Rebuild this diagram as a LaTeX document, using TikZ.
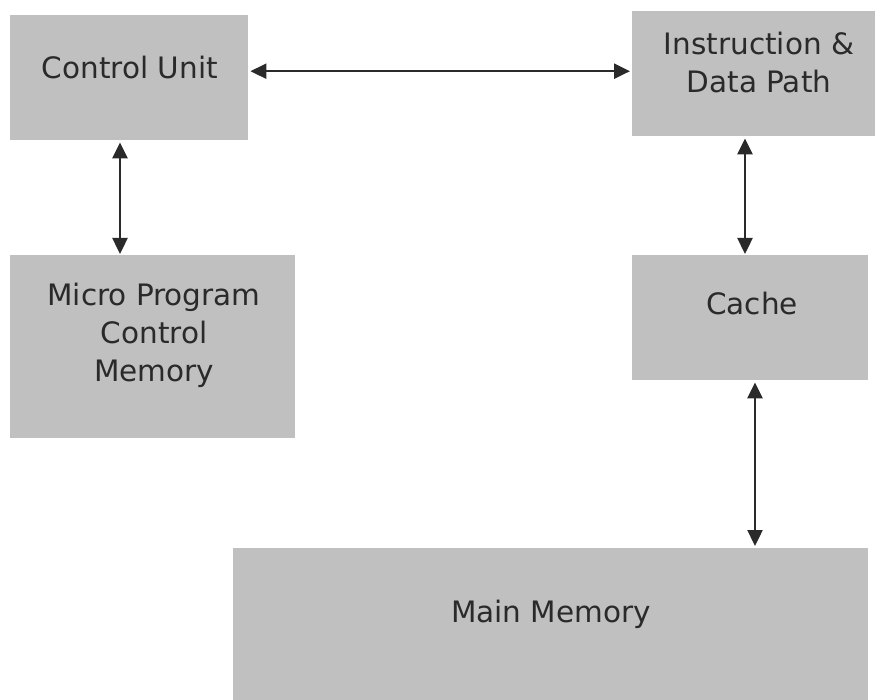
\documentclass[tikz,border=0pt]{standalone}
\usepackage{fontspec}
\setmainfont{DejaVu Sans}
\usetikzlibrary{arrows.meta}
\definecolor{boxgray}{HTML}{C0C0C0}
\definecolor{ink}{HTML}{2A2A2A}
\tikzset{
  box/.style={draw=none, fill=boxgray, anchor=north west, inner sep=0pt},
  txt/.style={text=ink, font=\fontsize{29.5}{38}\selectfont, align=center, inner sep=0pt},
  conn/.style={draw=ink, line width=2.4pt, {Triangle[length=16pt,width=15pt]}-{Triangle[length=16pt,width=15pt]}}
}
\begin{document}
\begin{tikzpicture}[x=1pt,y=-1pt]
\useasboundingbox (0,0) rectangle (875,700);
% boxes
\node[box, minimum width=238pt, minimum height=125pt] (cu) at (10,15) {};
\node[box, minimum width=243pt, minimum height=125pt] (idp) at (632,11) {};
\node[box, minimum width=285pt, minimum height=183pt] (mpcm) at (10,255) {};
\node[box, minimum width=236pt, minimum height=125pt] (cache) at (632,255) {};
\node[box, minimum width=635pt, minimum height=152pt] (mm) at (233,548) {};
% texts
\node[txt] (cut) at (130,68) {Control Unit};
\node[txt] (idpt) at (759,63) {Instruction \&\\Data Path};
\node[txt] (mpcmt) at (154,335) {Micro Program\\Control\\Memory};
\node[txt] (cachet) at (752,304) {Cache};
\node[txt] (mmt) at (551,614) {Main Memory};
% connectors
\draw[conn] ([xshift=2pt,yshift=6.5pt]cu.east) -- ([xshift=-2pt,yshift=2.5pt]idp.west);
\draw[conn] ([xshift=110pt,yshift=-2pt]cu.south west) -- ([xshift=110pt,yshift=1pt]mpcm.north west);
\draw[conn] ([xshift=113pt,yshift=-2pt]idp.south west) -- ([xshift=113pt,yshift=1pt]cache.north west);
\draw[conn] ([xshift=123pt,yshift=-2pt]cache.south west) -- ([xshift=522pt,yshift=2pt]mm.north west);
\end{tikzpicture}
\end{document}
